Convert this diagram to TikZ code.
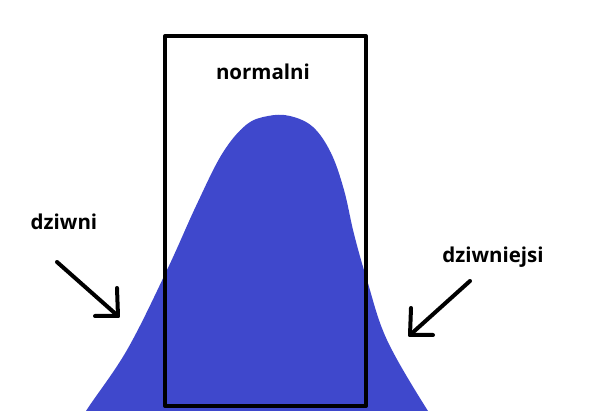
\documentclass[tikz,border=0pt]{standalone}
\usepackage{fontspec}
\newfontfamily\labelfont{Open Sans}
\usetikzlibrary{positioning}
\definecolor{paintblue}{HTML}{3F48CC}

\begin{document}
\begin{tikzpicture}[x=1pt,y=-1pt,line join=round,line cap=round]
  \tikzset{
    label/.style={anchor=base,font=\labelfont\bfseries\fontsize{20.5}{24}\selectfont,text=black,inner sep=0pt},
    frame/.style={draw=black,line width=4pt,line cap=butt},
    pointer/.style={draw=black,line width=4pt}
  }
  \useasboundingbox (0,0) rectangle (600,411);
  \clip (0,0) rectangle (600,411);

  % Bell curve.
  \fill[paintblue] plot[smooth,tension=.6] coordinates {
    (70,440) (86,411) (127,350) (167,270) (196,206) (222,154) (246,125) (268,116)
    (290,116) (313,127) (331,153) (344,190) (354,234) (367,280) (387,340) (428,411) (450,440)} -- cycle;

  % Box round the middle.
  \draw[frame] (165,36) rectangle (366,406);
  \node[label] (normal) at (263,80) {normalni};

  % Left tail.
  \node[label] (weird) at (64,230) {dziwni};
  \coordinate (weirdfrom) at (57,262);
  \coordinate (weirdtip) at (118,316);
  \draw[pointer] (weirdfrom) -- (weirdtip);
  \draw[pointer] (weirdtip) ++(-1,-28) -- (weirdtip) -- ++(-23,0);

  % Right tail.
  \node[label] (weirder) at (493,263) {dziwniejsi};
  \coordinate (weirderfrom) at (470,281);
  \coordinate (weirdertip) at (410,335);
  \draw[pointer] (weirderfrom) -- (weirdertip);
  \draw[pointer] (weirdertip) ++(1,-27) -- (weirdertip) -- ++(23,0);
\end{tikzpicture}
\end{document}
